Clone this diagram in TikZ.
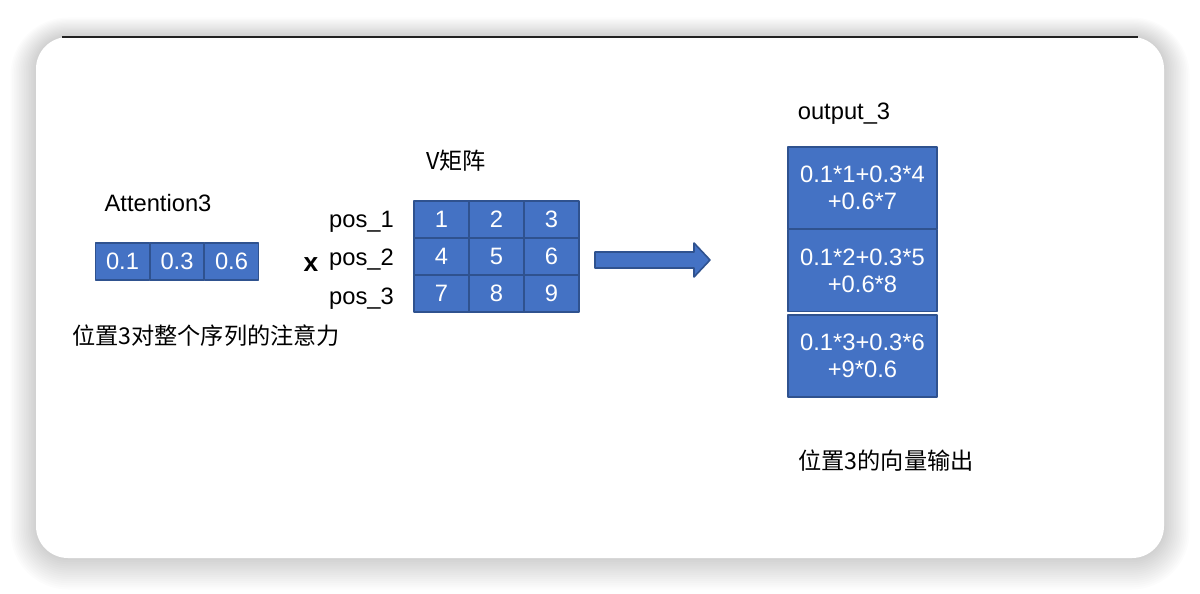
\documentclass[tikz,border=0pt]{standalone}
\usepackage{fontspec}
\setmainfont{Liberation Sans}
\newfontfamily\cjk{Noto Sans CJK SC}
\usetikzlibrary{arrows.meta}
\definecolor{Bc}{RGB}{68, 114, 196}
\definecolor{Ec}{RGB}{47, 82, 143}
\definecolor{Tc}{RGB}{34, 34, 34}
\def\pw{0.02cm}

\begin{document}
\begin{tikzpicture}[x=0.02cm, y=-0.02cm, line join=round,
  every node/.style={font=\fontsize{13.5}{15.5}\selectfont},
  cell/.style={draw=Ec, fill=Bc, text=white, line width=0.9pt, inner sep=0pt,
    minimum width=55*\pw, minimum height=37*\pw}]
  \useasboundingbox (0,0) rectangle (1200,594);

  % card and its shadow
  \foreach \s in {1,...,15}
    \fill[black, opacity=0.013, rounded corners={(32+1.7*\s)*\pw}]
      (36-1.7*\s, 37-1.7*\s+0.4*\s) rectangle (1164+1.7*\s, 558+1.7*\s+0.4*\s);
  \fill[white, rounded corners=32*\pw] (36,37) rectangle (1164,558);
  \draw[Tc, line width=1pt] (62,37) -- (1138,37);

  % Attention row
  \def\attv#1{\ifcase#1 0.1\or 0.3\or 0.6\fi}
  \foreach \i in {0,1,2}
    \node[cell, minimum width=54*\pw] (a\i) at (122.5+54.5*\i, 261.5) {\attv{\i}};
  \node (att) at (158,203) {Attention3};
  \node[font=\fontsize{13.2}{15}\selectfont\cjk] (atttxt) at (206,336) {位置3对整个序列的注意力};
  \node[font=\fontsize{15}{17}\selectfont\bfseries] (times) at (311,265) {x};

  % V matrix
  \def\posy#1{\ifcase#1 222\or 260\or 299\fi}
  \foreach \r in {0,1,2}{
    \foreach \c in {0,1,2}{
      \pgfmathtruncatemacro{\v}{3*\r+\c+1}
      \node[cell] (v\r\c) at (441.5+55*\c, 219.5+37*\r) {\v};
    }
    \pgfmathtruncatemacro{\n}{\r+1}
    \pgfmathsetmacro{\py}{\posy{\r}}
    \node[anchor=east] (p\r) at (400,\py) {pos\_\n};
  }
  \node[font=\fontsize{13.2}{15}\selectfont\cjk] (vt) at (456,161) {V矩阵};

  % block arrow
  \draw[draw=Ec, fill=Bc, line width=0.9pt] (595,252) -- (694,252) -- (694,243)
    -- (710,260) -- (694,277) -- (694,268) -- (595,268) -- cycle;

  % output column
  \def\outv#1{\ifcase#1 0.1*1+0.3*4\\+0.6*7\or 0.1*2+0.3*5\\+0.6*8\or 0.1*3+0.3*6\\+9*0.6\fi}
  \def\outy#1{\ifcase#1 188\or 270.5\or 356\fi}
  \foreach \i in {0,1,2}{
    \pgfmathsetmacro{\yy}{\outy{\i}}
    \node[cell, align=center, minimum width=149*\pw, minimum height=82*\pw] (o\i) at (862.5,\yy) {\outv{\i}};
  }
  \node (outt) at (844,114) {output\_3};
  \node[font=\fontsize{13.2}{15}\selectfont\cjk] (outtxt) at (886,461) {位置3的向量输出};

\end{tikzpicture}
\end{document}
